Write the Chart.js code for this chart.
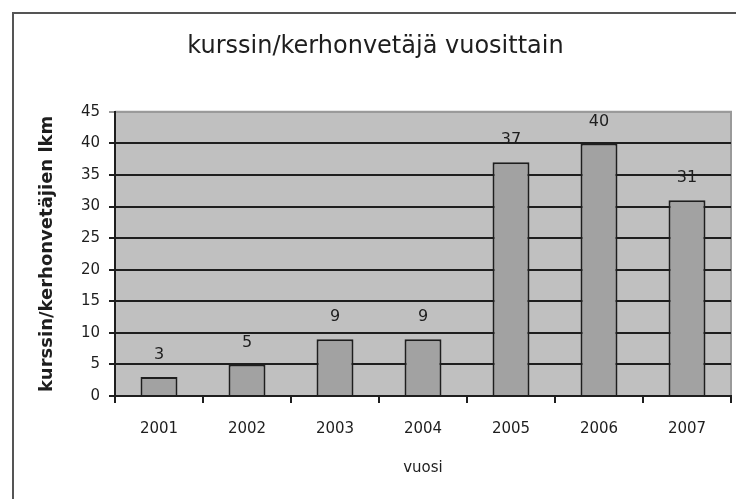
<!DOCTYPE html>
<html>
<head>
<meta charset="utf-8">
<title>kurssin/kerhonvetäjä vuosittain</title>
<script src="https://cdn.jsdelivr.net/npm/chart.js@4"></script>
<style>
  html, body { margin: 0; padding: 0; background: #fff; }
  #wrap { position: relative; width: 736px; height: 499px; overflow: hidden; }
  #frame { position: absolute; left: 12px; top: 12px; width: 800px; height: 600px;
           border-left: 2px solid #555; border-top: 2px solid #555; }
  #chart { position: absolute; left: 0; top: 0; }
</style>
</head>
<body>
<div id="wrap">
  <div id="frame"></div>
  <canvas id="chart" width="736" height="499"></canvas>
</div>
<script>
// Data
const years   = ['2001', '2002', '2003', '2004', '2005', '2006', '2007'];
const leaders = [3, 5, 9, 9, 37, 40, 31];
const yTicks  = [0, 5, 10, 15, 20, 25, 30, 35, 40, 45];

const FONT = 'DejaVu Sans';
const INK  = '#1e1e1e';

// Grey plot background, lighter edge on top/right
const plotBg = {
  id: 'plotBg',
  beforeDraw(chart) {
    const { ctx, chartArea: a } = chart;
    ctx.save();
    ctx.fillStyle = '#c0c0c0';
    ctx.fillRect(a.left, a.top, a.right - a.left, a.bottom - a.top);
    ctx.strokeStyle = '#9a9a9a';
    ctx.lineWidth = 2;
    ctx.beginPath();
    ctx.moveTo(a.left, a.top);
    ctx.lineTo(a.right, a.top);
    ctx.lineTo(a.right, a.bottom);
    ctx.stroke();
    ctx.restore();
  }
};

// Value labels above bars
const valueLabels = {
  id: 'valueLabels',
  afterDatasetsDraw(chart) {
    const { ctx } = chart;
    const meta = chart.getDatasetMeta(0);
    ctx.save();
    ctx.font = `16px "${FONT}"`;
    ctx.fillStyle = INK;
    ctx.textAlign = 'center';
    ctx.textBaseline = 'middle';
    meta.data.forEach((bar, i) => {
      ctx.fillText(String(leaders[i]), bar.x, bar.y - 22);
    });
    ctx.restore();
  }
};

new Chart(document.getElementById('chart'), {
  type: 'bar',
  data: {
    labels: years,
    datasets: [{
      data: leaders,
      backgroundColor: '#a2a2a2',
      borderColor: INK,
      borderWidth: 2,
      barPercentage: 0.42,
      categoryPercentage: 1,
    }]
  },
  options: {
    responsive: false,
    animation: false,
    layout: { padding: { left: 20, right: 5, top: 13, bottom: 20 } },
    plugins: {
      legend: { display: false },
      tooltip: { enabled: false },
      title: {
        display: true,
        text: 'kurssin/kerhonvetäjä vuosittain',
        color: INK,
        font: { family: FONT, size: 24, weight: 'normal' },
        padding: { top: 19, bottom: 51 },
      },
    },
    scales: {
      x: {
        afterFit: s => { s.height = 83; },
        grid: { display: true, drawOnChartArea: false, offset: true, color: INK, lineWidth: 2, tickLength: 7 },
        border: { display: true, color: INK, width: 2 },
        ticks: { color: INK, font: { family: FONT, size: 15 }, padding: 17, maxRotation: 0 },
        title: {
          display: true,
          text: 'vuosi',
          color: INK,
          font: { family: FONT, size: 15 },
          padding: { top: 0, bottom: 2 },
        },
      },
      y: {
        min: 0,
        max: yTicks[yTicks.length - 1],
        afterFit: s => { s.width = 95; },
        afterBuildTicks: s => { s.ticks = yTicks.map(v => ({ value: v })); },
        grid: {
          color: c => c.tick && c.tick.value === yTicks[yTicks.length - 1] ? '#9a9a9a' : INK,
          lineWidth: 2,
          tickLength: 6,
        },
        border: { display: true, color: INK, width: 2 },
        ticks: { color: INK, font: { family: FONT, size: 15 }, padding: 9 },
        title: {
          display: true,
          text: 'kurssin/kerhonvetäjien lkm',
          color: INK,
          font: { family: FONT, size: 18, weight: 'bold' },
          padding: { top: 17, bottom: 0 },
        },
      }
    }
  },
  plugins: [plotBg, valueLabels]
});
</script>
</body>
</html>
